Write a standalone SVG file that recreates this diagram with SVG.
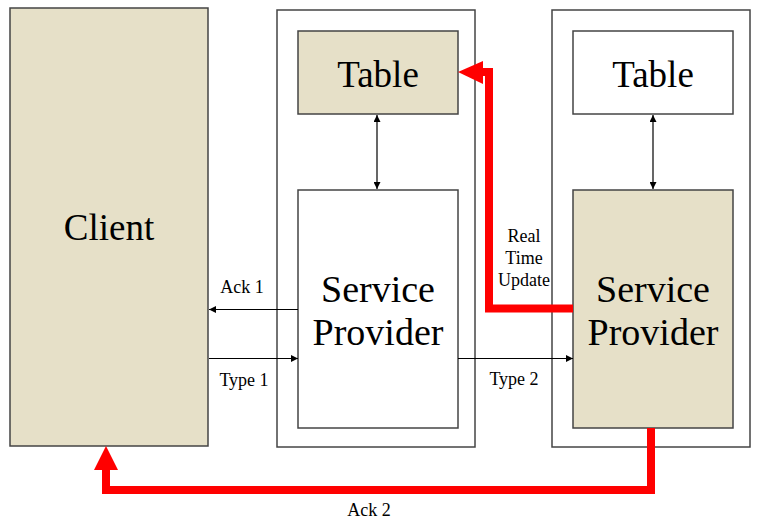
<svg xmlns="http://www.w3.org/2000/svg" width="762" height="523" viewBox="0 0 762 523">
<defs>
<style>
.box{stroke:#444;stroke-width:1.5}
.beige{fill:#E6E0C8}
.white{fill:#fff}
.big{font-family:"Liberation Serif",serif;font-size:38px;fill:#000;text-anchor:middle}
.small{font-family:"Liberation Serif",serif;font-size:18px;fill:#000;text-anchor:middle}
.thin{stroke:#000;stroke-width:1.2;fill:none}
.red{stroke:#FF0000;stroke-width:8;fill:none;stroke-linejoin:miter}
</style>
<marker id="ah" viewBox="0 0 10 10" refX="10" refY="5" markerWidth="9" markerHeight="7" markerUnits="userSpaceOnUse" orient="auto-start-reverse">
<path d="M0,0 L10,5 L0,10 z" fill="#000"/>
</marker>
</defs>
<rect width="762" height="523" fill="#fff"/>
<g id="client">
<rect class="box beige" x="10" y="8" width="198" height="438"/>
<text class="big" x="109" y="240" style="font-size:37px">Client</text>
</g>
<g id="container1">
<rect class="box white" x="277" y="10" width="198" height="437"/>
</g>
<g id="table1">
<rect class="box beige" x="298" y="31" width="160" height="83"/>
<text class="big" x="378" y="87" style="font-size:37px">Table</text>
</g>
<g id="provider1">
<rect class="box white" x="298" y="190" width="160" height="238"/>
<text class="big" x="378" y="302">Service</text>
<text class="big" x="378" y="345">Provider</text>
</g>
<g id="container2">
<rect class="box white" x="552" y="10" width="198" height="437"/>
</g>
<g id="table2">
<rect class="box white" x="573" y="31" width="160" height="83"/>
<text class="big" x="653" y="87" style="font-size:37px">Table</text>
</g>
<g id="provider2">
<rect class="box beige" x="573" y="190" width="160" height="238"/>
<text class="big" x="653" y="302">Service</text>
<text class="big" x="653" y="345">Provider</text>
</g>
<g id="connectors">
<line class="thin" x1="377" y1="115" x2="377" y2="189" marker-start="url(#ah)" marker-end="url(#ah)"/>
<line class="thin" x1="653" y1="115" x2="653" y2="189" marker-start="url(#ah)" marker-end="url(#ah)"/>
<line class="thin" x1="298" y1="309.5" x2="209" y2="309.5" marker-end="url(#ah)"/>
<line class="thin" x1="209" y1="358.5" x2="298" y2="358.5" marker-end="url(#ah)"/>
<line class="thin" x1="458" y1="358.5" x2="573" y2="358.5" marker-end="url(#ah)"/>
<path class="red" d="M573,308.5 L489,308.5 L489,72 L480,72"/>
<polygon points="458,72 483,61 483,84" fill="#FF0000"/>
<path class="red" d="M651,428 L651,490 L106,490 L106,466"/>
<polygon points="106,446 94,470 118,470" fill="#FF0000"/>
<text class="small" x="242" y="293">Ack 1</text>
<text class="small" x="244" y="386">Type 1</text>
<text class="small" x="514" y="385">Type 2</text>
<text class="small" x="524" y="242">Real</text>
<text class="small" x="524" y="264">Time</text>
<text class="small" x="524" y="286">Update</text>
<text class="small" x="369" y="516">Ack 2</text>
</g>
</svg>
